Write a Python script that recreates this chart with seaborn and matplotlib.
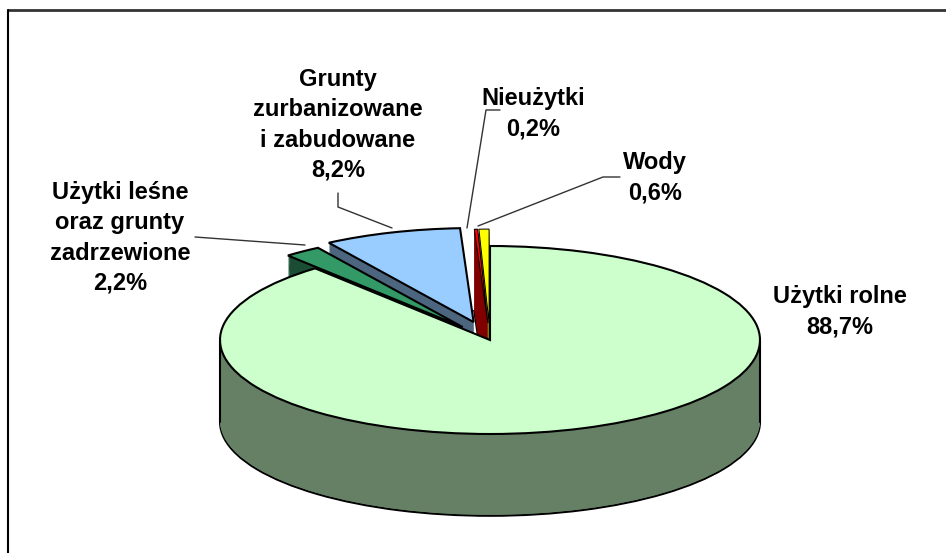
import matplotlib
matplotlib.use("Agg")
import matplotlib.pyplot as plt
from matplotlib.lines import Line2D
import numpy as np
import seaborn as sns

# data, clockwise from 12 o'clock
categories = ["Użytki rolne", "Użytki leśne\noraz grunty\nzadrzewione",
              "Grunty\nzurbanizowane\ni zabudowane", "Nieużytki", "Wody"]
shares = [88.7, 2.2, 8.2, 0.2, 0.6]
pct_labels = ["88,7%", "2,2%", "8,2%", "0,2%", "0,6%"]
top_colors = ["#CCFFCC", "#339966", "#99CCFF", "#FF0000", "#FFFF00"]
side_colors = ["#668066", "#1A4D33", "#4D6680", "#800000", "#808000"]
explode = [0.0, 0.17, 0.2, 0.18, 0.18]

# layout in pixels
W, H = 946, 553
CX, CY, RX, RY = 490, 340, 270, 94
depth = 0.87
radius = 1.0
label_pos = [(840, 312), (120, 238), (338, 125), (533, 114), (655, 178)]
leaders = [None,
           [(195, 237), (305, 245)],
           [(338, 193), (338, 207), (392, 228)],
           [(500, 110), (486, 110), (467, 228)],
           [(620, 177), (603, 177), (478, 226)]]


def to_data(xp, yp):
    return (xp - CX) / RX, (CY - yp) / RY


sns.set_theme(style="white")
plt.rcParams["font.family"] = ["Liberation Sans", "DejaVu Sans"]

fig = plt.figure(figsize=(W / 100, H / 100), dpi=100)
ax = fig.add_axes([0, 0, 1, 1])

# side walls: stack copies of the pie from the bottom up
levels = np.linspace(-depth, 0, 90)
for i, z in enumerate(levels):
    if i == 0:
        wp = dict(edgecolor="black", linewidth=1.5)
    else:
        wp = dict(edgecolor="none", linewidth=0)
    ax.pie(shares, explode=explode, colors=side_colors, startangle=90,
           counterclock=False, radius=radius, center=(0, z), wedgeprops=wp)

for sx in (-radius, radius):
    ax.plot([sx, sx], [-depth, 0], color="black", lw=1.5)

# top face
wedges, _ = ax.pie(shares, explode=explode, colors=top_colors, startangle=90,
                   counterclock=False, radius=radius, center=(0, 0),
                   wedgeprops=dict(edgecolor="black", linewidth=1.5))
# thin slices get a finer outline so their colour still shows
for w, s in zip(wedges, shares):
    if s < 1:
        w.set_linewidth(0.7)

# labels
for cat, pct, pos, lead in zip(categories, pct_labels, label_pos, leaders):
    tx, ty = to_data(*pos)
    ax.text(tx, ty, f"{cat}\n{pct}", ha="center", va="center",
            fontsize=17, fontweight="bold", linespacing=1.4, color="black")
    if lead:
        xs, ys = zip(*[to_data(*p) for p in lead])
        ax.plot(xs, ys, color="#333333", lw=1)

ax.set_aspect("auto")
ax.set_xlim(to_data(0, 0)[0], to_data(W, 0)[0])
ax.set_ylim(to_data(0, H)[1], to_data(0, 0)[1])
ax.axis("off")

# chart area frame (top and left edges visible)
fig.add_artist(Line2D([8 / W, 1], [1 - 10 / H, 1 - 10 / H],
                      transform=fig.transFigure, color="#333333", lw=2))
fig.add_artist(Line2D([8 / W, 8 / W], [0, 1 - 10 / H],
                      transform=fig.transFigure, color="black", lw=1.5))

fig.savefig("out.png", dpi=100)
